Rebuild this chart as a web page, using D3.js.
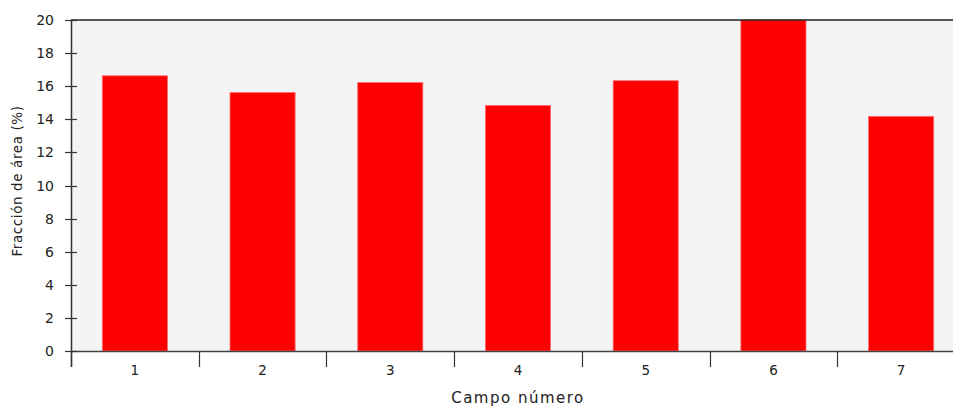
<!DOCTYPE html>
<html>
<head>
<meta charset="utf-8">
<script src="https://cdn.jsdelivr.net/npm/d3@7.9.0/dist/d3.min.js"></script>
<style>
  body { margin: 0; background: #fff; }
  svg text { font-family: "DejaVu Sans", Verdana, sans-serif; fill: #222; }
</style>
</head>
<body>
<svg id="chart" width="953" height="407"></svg>
<script>
const campos = ["1", "2", "3", "4", "5", "6", "7"];
const fraccion = [16.63, 15.62, 16.22, 14.84, 16.33, 20.0, 14.18];
const yTicks = [0, 2, 4, 6, 8, 10, 12, 14, 16, 18, 20];

const svg = d3.select("#chart");
const mLeft = 71, mRight = 965, mTop = 20, mBottom = 351;

const x = d3.scaleBand().domain(campos).range([mLeft, mRight]).paddingInner(0.49).paddingOuter(0.245);
const xb = d3.scaleBand().domain(campos).range([mLeft, mRight]);
const y = d3.scaleLinear().domain([0, 20]).range([mBottom, mTop]);

// plot background
svg.append("rect")
  .attr("x", mLeft).attr("y", mTop)
  .attr("width", mRight - mLeft).attr("height", mBottom - mTop)
  .attr("fill", "#f4f4f4");

// bars
svg.selectAll("rect.bar")
  .data(fraccion)
  .enter()
  .append("rect")
  .attr("class", "bar")
  .attr("x", (d, i) => x(campos[i]))
  .attr("y", d => y(d))
  .attr("width", x.bandwidth())
  .attr("height", d => y(0) - y(d))
  .attr("fill", "#ff0000")
  .attr("stroke", "#ff7070")
  .attr("stroke-width", 0.8);

// top border
svg.append("line")
  .attr("x1", mLeft).attr("x2", 953)
  .attr("y1", mTop).attr("y2", mTop)
  .attr("stroke", "#222").attr("stroke-width", 1.5);

// x axis line + boundary ticks
svg.append("line")
  .attr("x1", mLeft).attr("x2", mRight)
  .attr("y1", mBottom + 0.5).attr("y2", mBottom + 0.5)
  .attr("stroke", "#444").attr("stroke-width", 1.5);

const bounds = campos.map(c => xb(c)).concat([mRight]);
svg.selectAll("line.xtick")
  .data(bounds)
  .enter()
  .append("line")
  .attr("class", "xtick")
  .attr("x1", d => Math.round(d) + 0.5).attr("x2", d => Math.round(d) + 0.5)
  .attr("y1", mBottom).attr("y2", 367)
  .attr("stroke", "#333").attr("stroke-width", 1.2);

svg.selectAll("text.xlab")
  .data(campos)
  .enter()
  .append("text")
  .attr("class", "xlab")
  .attr("x", d => xb(d) + xb.bandwidth() / 2)
  .attr("y", 375)
  .attr("text-anchor", "middle")
  .attr("font-size", 13.5)
  .text(d => d);

// y axis
svg.append("line")
  .attr("x1", mLeft + 0.5).attr("x2", mLeft + 0.5)
  .attr("y1", mTop).attr("y2", 367)
  .attr("stroke", "#333").attr("stroke-width", 1.5);

svg.selectAll("line.ytick")
  .data(yTicks)
  .enter()
  .append("line")
  .attr("class", "ytick")
  .attr("x1", 65).attr("x2", 77)
  .attr("y1", d => Math.round(y(d)) + 0.5).attr("y2", d => Math.round(y(d)) + 0.5)
  .attr("stroke", "#333").attr("stroke-width", 1.2);

svg.selectAll("text.ylab")
  .data(yTicks)
  .enter()
  .append("text")
  .attr("class", "ylab")
  .attr("x", 54)
  .attr("y", d => y(d))
  .attr("dy", "0.36em")
  .attr("text-anchor", "end")
  .attr("font-size", 14)
  .text(d => d);

// axis titles
svg.append("text")
  .attr("x", (mLeft + mRight) / 2)
  .attr("y", 403)
  .attr("text-anchor", "middle")
  .attr("font-size", 15)
  .attr("letter-spacing", 1.5)
  .text("Campo número");

svg.append("text")
  .attr("transform", `translate(22, 181) rotate(-90)`)
  .attr("text-anchor", "middle")
  .attr("font-size", 13.5)
  .attr("letter-spacing", 0.6)
  .text("Fracción de área (%)");
</script>
</body>
</html>
